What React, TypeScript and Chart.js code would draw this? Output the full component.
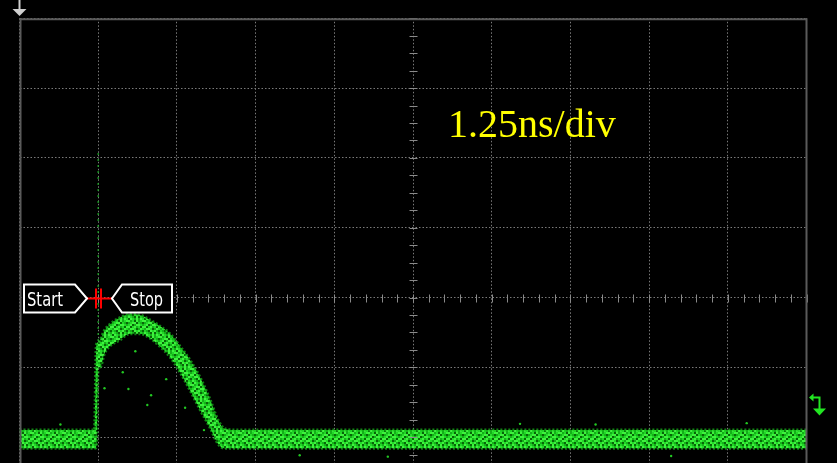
import React, { useEffect, useRef } from "react";
import { Chart, registerables } from "chart.js";

Chart.register(...registerables);

// ---- data (time in ns, amplitude in divisions) ----
const timeNs = [-6.25, -5.06, -5.03, -5.0, -4.97, -4.9, -4.82, -4.66, -4.5, -4.34, -4.18, -4.02, -3.86, -3.7, -3.54, -3.38, -3.22, -3.1, -2.99, -2.75, 6.25];
const upperDiv = [-1.9, -1.9, -0.68, -0.64, -0.61, -0.47, -0.39, -0.29, -0.24, -0.25, -0.32, -0.41, -0.52, -0.7, -0.9, -1.15, -1.47, -1.75, -1.88, -1.9, -1.9];
const lowerDiv = [-2.16, -2.16, -2.14, -1.0, -1.0, -0.8, -0.7, -0.61, -0.52, -0.52, -0.58, -0.7, -0.85, -1.07, -1.33, -1.61, -1.87, -2.09, -2.16, -2.16, -2.16];
const spikeTime = [-5.0, -5.0];
const spikeDiv = [2.07, -0.65];
const strayTime = [-4.61, -4.52, -4.41, -4.16, -4.22, -4.9, -3.92, -3.62, -3.32, -5.6, -1.8, 1.7, 4.1, 5.3, -0.4, 2.9];
const strayDiv = [-1.07, -1.31, -0.77, -1.4, -1.54, -1.3, -1.17, -1.58, -1.9, -1.82, -2.26, -1.81, -2.27, -1.8, -2.28, -1.82];

const xMin = -6.25;
const xMax = 6.25;
const xStep = 1.25;
const yMin = -2.371;
const yMax = 4;
const yStep = 1;
const cursorTime = -5.0;
const triggerLevelDiv = -1.54;

const timebaseLabel = "1.25ns/div";
const startLabel = "Start";
const stopLabel = "Stop";

// speckle texture used to paint the persistence trace
const speckleRows = [
  "31203123",
  "12330210",
  "23013321",
  "30231203",
  "13320132",
  "21032310",
  "32103021",
  "03213132",
];
const speckleColors = ["#086408", "#14b019", "#22d828", "#3ef23e"];

function makeSpeckle(): CanvasPattern | string {
  const c = document.createElement("canvas");
  const cell = 2;
  c.width = speckleRows[0].length * cell;
  c.height = speckleRows.length * cell;
  const g = c.getContext("2d");
  if (!g) return "#22d828";
  speckleRows.forEach((row, r) => {
    for (let k = 0; k < row.length; k++) {
      g.fillStyle = speckleColors[Number(row[k])];
      g.fillRect(k * cell, r * cell, cell, cell);
    }
  });
  const p = g.createPattern(c, "repeat");
  return p || "#22d828";
}

function drawCondensed(ctx: CanvasRenderingContext2D, text: string, x: number, y: number, width: number) {
  const w = ctx.measureText(text).width;
  const s = w > 0 ? width / w : 1;
  ctx.save();
  ctx.translate(x, y);
  ctx.scale(s, 1);
  ctx.fillText(text, 0, 0);
  ctx.restore();
}

const scopePlugin = {
  id: "scopeDecor",
  afterDraw(chart: any) {
    const { ctx, chartArea, scales } = chart;
    const xs = scales.x;
    const ys = scales.y;
    const { left, top, right, bottom } = chartArea;
    ctx.save();

    // minor ticks on centre axes
    const cx = Math.round(xs.getPixelForValue(0)) + 0.5;
    const cy = Math.round(ys.getPixelForValue(0)) + 0.5;
    ctx.strokeStyle = "#8a8a8a";
    ctx.lineWidth = 1;
    for (let i = 0; i <= 50; i++) {
      const v = xMin + (i * xStep) / 5;
      const px = Math.round(xs.getPixelForValue(v)) + 0.5;
      ctx.beginPath();
      ctx.moveTo(px, cy - 4);
      ctx.lineTo(px, cy + 4);
      ctx.stroke();
    }
    for (let i = 0; i <= 40; i++) {
      const v = -4 + (i * yStep) / 4;
      const py = Math.round(ys.getPixelForValue(v)) + 0.5;
      if (py < top || py > bottom + 20) continue;
      ctx.beginPath();
      ctx.moveTo(cx - 4, py);
      ctx.lineTo(cx + 4, py);
      ctx.stroke();
    }

    // frame
    ctx.strokeStyle = "#5a5a5a";
    ctx.lineWidth = 2;
    ctx.beginPath();
    ctx.moveTo(left + 1, bottom + 5);
    ctx.lineTo(left + 1, top + 1);
    ctx.lineTo(right, top + 1);
    ctx.lineTo(right, bottom + 5);
    ctx.stroke();

    // top-left position arrow
    ctx.strokeStyle = "#cfcfcf";
    ctx.fillStyle = "#cfcfcf";
    ctx.lineWidth = 2;
    ctx.beginPath();
    ctx.moveTo(left, 0);
    ctx.lineTo(left, 10);
    ctx.stroke();
    ctx.beginPath();
    ctx.moveTo(left - 7, 9);
    ctx.lineTo(left + 7, 9);
    ctx.lineTo(left, 16);
    ctx.closePath();
    ctx.fill();

    // trigger level icon (right side)
    const ty = Math.round(ys.getPixelForValue(triggerLevelDiv) - 8) + 0.5;
    ctx.strokeStyle = "#22e622";
    ctx.fillStyle = "#22e622";
    ctx.lineWidth = 2;
    ctx.beginPath();
    ctx.moveTo(right + 5, ty);
    ctx.lineTo(right + 13, ty);
    ctx.lineTo(right + 13, ty + 12);
    ctx.stroke();
    ctx.beginPath();
    ctx.moveTo(right + 2.5, ty);
    ctx.lineTo(right + 7, ty - 4);
    ctx.lineTo(right + 7, ty + 4);
    ctx.closePath();
    ctx.fill();
    ctx.beginPath();
    ctx.moveTo(right + 6.5, ty + 11);
    ctx.lineTo(right + 19.5, ty + 11);
    ctx.lineTo(right + 13, ty + 18);
    ctx.closePath();
    ctx.fill();

    // Start / Stop markers
    const mx = Math.round(xs.getPixelForValue(cursorTime));
    const my = Math.round(ys.getPixelForValue(0)) + 0.5;
    ctx.lineWidth = 2;
    ctx.strokeStyle = "#ff0000";
    ctx.beginPath();
    ctx.moveTo(mx - 11, my);
    ctx.lineTo(mx + 14, my);
    ctx.stroke();
    ctx.beginPath();
    ctx.moveTo(mx - 2, my - 10);
    ctx.lineTo(mx - 2, my + 10);
    ctx.moveTo(mx + 3, my - 10);
    ctx.lineTo(mx + 3, my + 10);
    ctx.stroke();

    ctx.strokeStyle = "#ffffff";
    ctx.fillStyle = "#000000";
    ctx.lineWidth = 2;
    ctx.beginPath();
    ctx.moveTo(mx - 74, my - 14);
    ctx.lineTo(mx - 23, my - 14);
    ctx.lineTo(mx - 11, my);
    ctx.lineTo(mx - 23, my + 14);
    ctx.lineTo(mx - 74, my + 14);
    ctx.closePath();
    ctx.fill();
    ctx.stroke();
    ctx.beginPath();
    ctx.moveTo(mx + 14, my);
    ctx.lineTo(mx + 24, my - 14);
    ctx.lineTo(mx + 74, my - 14);
    ctx.lineTo(mx + 74, my + 14);
    ctx.lineTo(mx + 24, my + 14);
    ctx.closePath();
    ctx.fill();
    ctx.stroke();

    ctx.fillStyle = "#ffffff";
    ctx.font = '19px "Liberation Sans Narrow", "DejaVu Sans Condensed", "Arial Narrow", sans-serif';
    ctx.textBaseline = "alphabetic";
    ctx.textAlign = "left";
    drawCondensed(ctx, startLabel, mx - 71, my + 7.5, 36);
    drawCondensed(ctx, stopLabel, mx + 32, my + 7.5, 33);

    // time base label
    ctx.fillStyle = "#ffff00";
    ctx.font = '40px "Liberation Serif", "Times New Roman", serif';
    ctx.fillText(timebaseLabel, 448, 137);

    ctx.restore();
  },
};

export default function App() {
  const ref = useRef<HTMLCanvasElement | null>(null);

  useEffect(() => {
    document.body.style.margin = "0";
    document.body.style.background = "#000";
    document.body.style.overflow = "hidden";
    const canvas = ref.current;
    if (!canvas) return;
    const speckle = makeSpeckle();
    const edge = "rgba(25, 185, 30, 0.7)";
    const chart = new Chart(canvas, {
      type: "line",
      data: {
        datasets: [
          {
            label: "upper",
            data: timeNs.map((t, i) => ({ x: t, y: upperDiv[i] })),
            borderColor: edge,
            borderWidth: 3,
            borderDash: [2, 2],
            pointRadius: 0,
            cubicInterpolationMode: "monotone",
            fill: "+1",
            backgroundColor: speckle,
          },
          {
            label: "lower",
            data: timeNs.map((t, i) => ({ x: t, y: lowerDiv[i] })),
            borderColor: edge,
            borderWidth: 3,
            borderDash: [2, 2],
            borderDashOffset: 1,
            pointRadius: 0,
            cubicInterpolationMode: "monotone",
            fill: false,
          },
          {
            label: "spike",
            data: spikeTime.map((t, i) => ({ x: t, y: spikeDiv[i] })),
            borderColor: "rgba(30, 175, 40, 0.8)",
            borderWidth: 1.5,
            borderDash: [2, 4],
            pointRadius: 0,
            fill: false,
          },
          {
            label: "stray",
            data: strayTime.map((t, i) => ({ x: t, y: strayDiv[i] })),
            showLine: false,
            pointRadius: 1.2,
            pointBorderWidth: 0,
            pointBackgroundColor: "#22c822",
            fill: false,
          },
        ],
      },
      options: {
        animation: false,
        responsive: false,
        events: [],
        layout: { autoPadding: false, padding: { left: 19.5, top: 18.3, right: 30.5, bottom: 0 } },
        plugins: {
          legend: { display: false },
          tooltip: { enabled: false },
          title: { display: false },
        },
        scales: {
          x: {
            type: "linear",
            min: xMin,
            max: xMax,
            ticks: { display: false, stepSize: xStep },
            grid: { color: "#7a7a7a", lineWidth: 1, drawTicks: false },
            border: { display: false, dash: [1.5, 2] },
          },
          y: {
            type: "linear",
            min: yMin,
            max: yMax,
            ticks: { display: false, stepSize: yStep },
            grid: {
              color: (c: any) =>
                c.tick && Math.abs(c.tick.value - Math.round(c.tick.value)) < 1e-6 ? "#7a7a7a" : "rgba(0,0,0,0)",
              lineWidth: 1,
              drawTicks: false,
            },
            border: { display: false, dash: [1.5, 2] },
          },
        },
      },
      plugins: [scopePlugin],
    } as any);
    return () => chart.destroy();
  }, []);

  return (
    <div style={{ position: "fixed", left: 0, top: 0, width: 837, height: 463, background: "#000", overflow: "hidden" }}>
      <canvas ref={ref} width={837} height={463} style={{ display: "block", width: 837, height: 463 }} />
    </div>
  );
}
